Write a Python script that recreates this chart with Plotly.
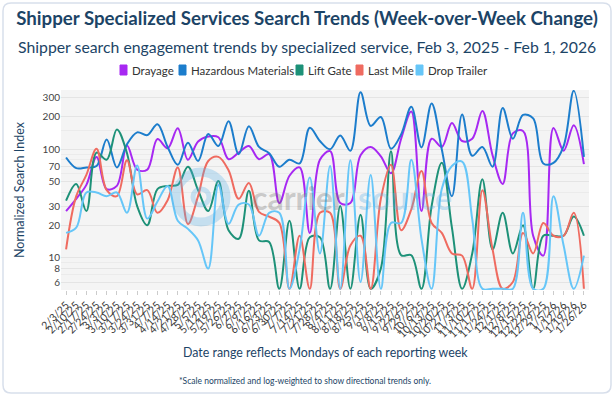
import plotly.graph_objects as go

dates = ["2/3/25","2/10/25","2/17/25","2/24/25","3/3/25","3/10/25","3/17/25","3/24/25","3/31/25",
         "4/7/25","4/14/25","4/21/25","4/28/25","5/5/25","5/12/25","5/19/25","5/26/25","6/2/25",
         "6/9/25","6/16/25","6/23/25","6/30/25","7/7/25","7/14/25","7/21/25","7/28/25","8/4/25",
         "8/11/25","8/18/25","8/25/25","9/1/25","9/8/25","9/15/25","9/22/25","9/29/25","10/6/25",
         "10/13/25","10/20/25","10/27/25","11/3/25","11/10/25","11/17/25","11/24/25","12/1/25",
         "12/8/25","12/15/25","12/22/25","12/29/25","1/5/26","1/12/26","1/19/26","1/26/26"]

drayage = [27, 35, 47, 85, 43, 46, 108, 65, 65, 124, 102, 156, 80, 118, 131, 129, 81, 93, 107, 81,
           90, 32, 57, 68, 17, 80, 96, 32, 32, 88, 105, 86, 60, 125, 222, 27, 125, 105, 174, 119,
           125, 225, 88, 48, 140, 147, 16, 10.5, 157, 97, 166, 73]
hazmat = [84, 67, 68, 70, 123, 68, 111, 143, 135, 170, 105, 72, 115, 78, 138, 107, 181, 90, 163, 105,
          92, 69, 80, 74, 158, 119, 100, 134, 97, 335, 164, 198, 101, 137, 246, 104, 264, 100, 37, 209,
          87, 105, 69, 240, 125, 207, 192, 74, 75, 107, 345, 85]
lift_gate = [33.6, 48, 27, 93, 80, 152, 92, 30, 20, 43, 46, 47, 69, 42, 27, 51, 18, 15, 41.5, 14.5,
             14, 5.2, 22, 5.2, 15.5, 15.5, 5.2, 30, 5.2, 25, 5.2, 8, 96, 10.6, 10.6, 5.2, 30, 75, 19, 5.2,
             11, 53, 12, 26, 11, 20, 5.2, 16, 16, 16, 24, 16]
last_mile = [12, 37, 58, 101, 42, 37, 79, 38.5, 42, 26, 34, 68, 20.5, 37, 78, 85, 64, 35, 49, 26.5,
             24, 21, 5.2, 16, 5.2, 26, 26, 5.2, 13, 16, 5.2, 35, 72, 18, 28, 63, 21, 17, 11, 10.5,
             5.2, 42, 12, 5.2, 6, 17, 11, 21, 16, 16, 26, 5.2]
drop_trailer = [17, 19, 40, 40, 37, 40, 26, 71, 23, 33, 46, 22, 18.5, 14.5, 8, 47, 20.6, 31, 31, 16,
                26, 26, 5.2, 12, 55, 11, 70, 5.2, 79, 6, 58, 5.2, 21, 21, 80, 15, 5.2, 43, 70, 77,
                22.7, 5.2, 5.2, 5.2, 5.2, 26, 5.2, 5.2, 37, 13, 5.2, 10.5]

series_names = ["Drayage", "Hazardous Materials", "Lift Gate", "Last Mile", "Drop Trailer"]
series_values = [drayage, hazmat, lift_gate, last_mile, drop_trailer]
colors = ["#a728f2", "#1c7dcc", "#1d9178", "#ef6b60", "#66c6f8"]

y_ticks = [6, 8, 10, 20, 30, 50, 70, 100, 200, 300]
y_minor = [7, 9, 40, 60, 80, 90, 150]

W_FIG, H_FIG = 614, 396
L, R, T, B = 61, 589, 90, 290
PW, PH = R - L, B - T
def px(x): return (x - L) / PW
def py(y): return (B - y) / PH

NAVY = "#1c4466"
FONT = "Lato"

fig = go.Figure()
for name, vals, col in zip(series_names, series_values, colors):
    fig.add_trace(go.Scatter(x=dates, y=vals, mode="lines", name=name,
                             line=dict(color=col, width=2, shape="spline", smoothing=1)))

fig.update_layout(
    width=W_FIG, height=H_FIG,
    margin=dict(l=L, r=W_FIG - R, t=T, b=H_FIG - B),
    paper_bgcolor="white", plot_bgcolor="#f4f4f4",
    font=dict(family=FONT, color="#444"),
    showlegend=False,
    title=dict(text="<b>Shipper Specialized Services Search Trends (Week-over-Week Change)</b>",
               x=0.5, xanchor="center", y=1 - 18 / H_FIG, yanchor="middle",
               font=dict(size=18.7, color=NAVY, family=FONT)),
)

fig.update_xaxes(type="category", range=[-0.5, len(dates) - 0.5],
                 tickmode="array", tickvals=dates, ticktext=dates,
                 tickangle=-45, tickfont=dict(size=10.5, color="#3a3a3a"),
                 ticks="outside", ticklen=4, tickcolor="#ccc",
                 showgrid=False, zeroline=False, showline=False)
fig.update_yaxes(type="log", range=[0.705, 2.545],
                 tickmode="array", tickvals=y_ticks, ticktext=[str(v) for v in y_ticks],
                 tickfont=dict(size=10, color="#444"),
                 showgrid=True, gridcolor="#e4e4e4", gridwidth=1,
                 minor=dict(tickvals=y_minor, showgrid=True, gridcolor="#ebebeb", ticks=""),
                 zeroline=False, showline=False)

ann = [
    dict(text="Shipper search engagement trends by specialized service, Feb 3, 2025 - Feb 1, 2026",
         x=px(307), y=py(46), font=dict(size=15.8, color=NAVY, family=FONT)),
    dict(text="Date range reflects Mondays of each reporting week",
         x=px(325), y=py(352), font=dict(size=12.4, color=NAVY, family=FONT)),
    dict(text="*Scale normalized and log-weighted to show directional trends only.",
         x=px(305), y=py(381), font=dict(size=8.5, color=NAVY, family=FONT)),
    dict(text="Normalized Search Index", textangle=-90,
         x=px(19), y=py(190), font=dict(size=12.5, color=NAVY, family=FONT)),
    dict(text="<b>carrier</b>", x=px(250), xanchor="left", y=py(197),
         font=dict(size=32, color="rgba(110,110,110,0.33)", family=FONT)),
    dict(text="<b>source</b>", x=px(356), xanchor="left", y=py(197),
         font=dict(size=32, color="rgba(90,175,230,0.33)", family=FONT)),
]

# legend built from the series names and colours
legend_sq = [120, 179, 296, 356, 416]
for name, col, sx in zip(series_names, colors, legend_sq):
    fig.add_shape(type="rect", xref="paper", yref="paper",
                  x0=px(sx), x1=px(sx + 7), y0=py(75), y1=py(65),
                  line=dict(color=col, width=1), fillcolor=col)
    ann.append(dict(text=name, x=px(sx + 10), xanchor="left", y=py(70.5),
                    font=dict(size=11.5, color="#333", family=FONT)))

for a in ann:
    a.setdefault("xanchor", "center")
    a.update(xref="paper", yref="paper", showarrow=False, yanchor="middle")
    fig.add_annotation(**a)

# watermark ring
fig.add_shape(type="circle", xref="paper", yref="paper",
              x0=px(176), x1=px(226), y0=py(222), y1=py(172),
              line=dict(color="rgba(90,175,230,0.3)", width=9), layer="above")
fig.add_shape(type="circle", xref="paper", yref="paper",
              x0=px(193), x1=px(209), y0=py(205), y1=py(189),
              line=dict(color="rgba(90,175,230,0.3)", width=5), layer="above")

# rounded border around the whole chart
x0, x1, y0, y1, r = 3, 611, 3, 393, 8
path = (f"M {px(x0 + r)} {py(y0)} L {px(x1 - r)} {py(y0)} Q {px(x1)} {py(y0)} {px(x1)} {py(y0 + r)} "
        f"L {px(x1)} {py(y1 - r)} Q {px(x1)} {py(y1)} {px(x1 - r)} {py(y1)} "
        f"L {px(x0 + r)} {py(y1)} Q {px(x0)} {py(y1)} {px(x0)} {py(y1 - r)} "
        f"L {px(x0)} {py(y0 + r)} Q {px(x0)} {py(y0)} {px(x0 + r)} {py(y0)} Z")
fig.add_shape(type="path", xref="paper", yref="paper", path=path,
              line=dict(color="#d8dfeb", width=1.5), layer="below")

fig.write_html("out.html", config={"displayModeBar": False},
               post_script="document.body.style.margin='0';document.body.style.padding='0';")
